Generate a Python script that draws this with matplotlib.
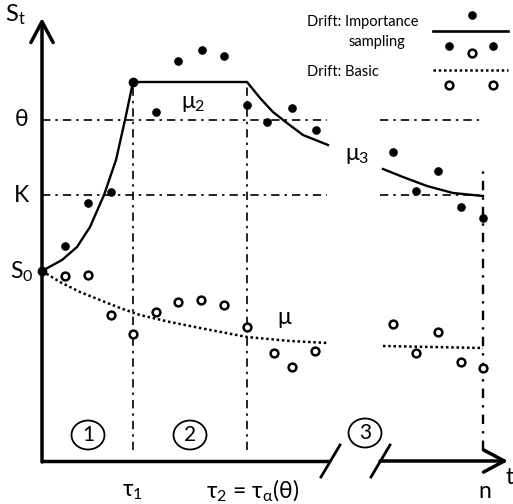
import matplotlib
matplotlib.use('Agg')
import matplotlib.pyplot as plt
from matplotlib.patches import Ellipse

plt.rcParams['font.family'] = ['Lato', 'DejaVu Sans']
plt.rcParams['mathtext.default'] = 'regular'

# levels and times
S0 = 190
K = 266
THETA = 341
TAU1 = 91
TAU2 = 205
N = 441

# drift curves (importance sampling)
mu1_t = [0, 20, 35, 48, 62, 74, 83, 91]
mu1_s = [190, 201, 214, 234, 266, 301, 341, 379]
mu2_t = [91, 205, 218, 231, 245, 261, 286]
mu2_s = [379, 379, 363, 349, 338, 326, 316]
mu3_t = [341, 361, 385, 411, 441]
mu3_s = [292, 284, 275, 268, 265]

# basic drift (dotted)
mu_t = [0, 18, 38, 58, 78, 98, 128, 158, 205, 248, 286]
mu_s = [190, 179, 169, 161, 153, 146, 139, 133, 124, 120, 118]
mu_end_t = [341, 441]
mu_end_s = [115, 113]

# simulated paths
is_t = [23, 46, 69, 114, 136, 160, 182, 205, 225, 250, 274,
        351, 374, 396, 419, 441]
is_s = [215, 258, 269, 349, 400, 411, 405, 356, 339, 353, 331,
        309, 270, 290, 254, 243]
basic_t = [23, 46, 69, 91, 114, 136, 159, 182, 205, 232, 250, 273,
           351, 374, 396, 419, 441]
basic_s = [185, 186, 146, 127, 149, 159, 161, 156, 134, 108, 94, 110,
           137, 108, 129, 99, 93]

fig = plt.figure(figsize=(5.13, 5.04), dpi=100)
ax = fig.add_axes([0, 0, 1, 1])
ax.set_xlim(-42, 471)
ax.set_ylim(-43, 461)
ax.axis('off')

k = dict(color='black')
dd = (0, (5, 3, 1.5, 3))

# reference levels
for lev in [THETA, K]:
    ax.plot([0, 285], [lev, lev], lw=1.2, ls=dd, **k)
    ax.plot([338, N], [lev, lev], lw=1.2, ls=dd, **k)
ax.plot([TAU1, TAU1], [11, 379], lw=1.2, ls=dd, **k)
ax.plot([TAU2, TAU2], [11, 379], lw=1.2, ls=dd, **k)
ax.plot([N, N], [11, 291], lw=1.7, ls=(0, (4, 3, 1, 3)), **k)

# axes with arrows and break
arr = dict(arrowstyle='->,head_length=0.75,head_width=0.4', lw=2.5,
           color='black', mutation_scale=20, shrinkA=0, shrinkB=0)
ax.annotate('', xy=(0, 443), xytext=(0, -1), arrowprops=arr)
ax.plot([-1, 288], [0, 0], lw=2.5, solid_capstyle='butt', **k)
ax.annotate('', xy=(466, 0), xytext=(338, 0), arrowprops=arr)
ax.plot([279, 298], [-16, 16], lw=2.0, **k)
ax.plot([329, 348], [-16, 16], lw=2.0, **k)

# curves
ax.plot(mu1_t, mu1_s, lw=1.7, **k)
ax.plot(mu2_t, mu2_s, lw=1.7, **k)
ax.plot(mu3_t, mu3_s, lw=1.7, **k)
ax.plot(mu_t, mu_s, lw=1.8, ls=(0, (1, 1.1)), **k)
ax.plot(mu_end_t, mu_end_s, lw=1.8, ls=(0, (1, 1.1)), **k)
ax.plot([0, TAU1], [S0, 379], 'o', ms=6, **k)

ax.plot(is_t, is_s, 'o', ms=5.2, **k)
ax.plot(basic_t, basic_s, 'o', ms=5.6, mfc='white', mec='black', mew=1.8)

# legend
ax.text(265, 439, 'Drift: Importance', fontsize=10.5, ha='left', va='center')
ax.text(335, 419, 'sampling', fontsize=10.5, ha='center', va='center')
ax.text(265, 389, 'Drift: Basic', fontsize=10.5, ha='left', va='center')
ax.plot([391, 466], [430, 430], lw=1.9, **k)
ax.plot([391, 466], [391, 391], lw=1.8, ls=(0, (1, 1.1)), **k)
ax.plot([430, 407, 451], [446, 415, 415], 'o', ms=5.2, **k)
ax.plot([430, 407, 451], [408, 376, 376], 'o', ms=5.6, mfc='white',
        mec='black', mew=1.8)

# labels
fs = 16.5
ax.text(-27, 446, '$S_t$', fontsize=17, ha='center', va='center')
ax.text(-20, 341, 'θ', fontsize=fs, ha='center', va='center')
ax.text(-20, 266, 'K', fontsize=fs, ha='center', va='center')
ax.text(-20, 189, '$S_0$', fontsize=fs, ha='center', va='center')
ax.text(151, 358, '$μ_2$', fontsize=fs, ha='center', va='center')
ax.text(315, 306, '$μ_3$', fontsize=fs, ha='center', va='center')
ax.text(242, 144, 'μ', fontsize=fs, ha='center', va='center')
ax.text(TAU1, -30, '$τ_1$', fontsize=fs, ha='center', va='center')
ax.text(211, -30, '$τ_2$ = $τ_α$(θ)', fontsize=fs, ha='center', va='center')
ax.text(443, -31, 'n', fontsize=fs, ha='center', va='center')
ax.text(463, -17, 't', fontsize=fs, ha='left', va='center')

# phases
for cx, cy, lab in [(46, 26, '1'), (148, 26, '2'), (323, 28, '3')]:
    ax.add_patch(Ellipse((cx, cy), 33, 29, fill=False, lw=1.3, ec='black'))
    ax.text(cx, cy, lab, fontsize=15, ha='center', va='center')

fig.savefig('out.png', dpi=100)
